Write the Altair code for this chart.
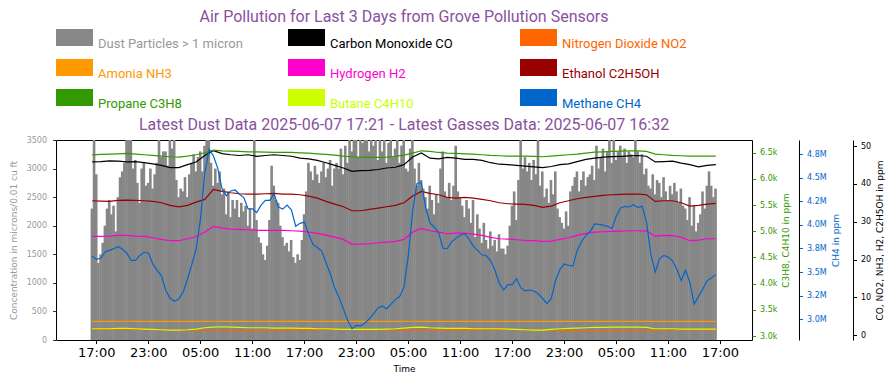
import altair as alt
import pandas as pd

TITLE = "Air Pollution for Last 3 Days from Grove Pollution Sensors"
SUBTITLE = "Latest Dust Data 2025-06-07 17:21 - Latest Gasses Data: 2025-06-07 16:32"
PURPLE = "#8a519e"

# ---------------- legend entries ----------------
legend_names = ["Dust Particles > 1 micron", "Carbon Monoxide CO", "Nitrogen Dioxide NO2",
                "Amonia NH3", "Hydrogen H2", "Ethanol C2H5OH",
                "Propane C3H8", "Butane C4H10", "Methane CH4"]
legend_colors = ["#888888", "#000000", "#ff6600",
                 "#ff9900", "#ff00cc", "#990000",
                 "#339900", "#ccff00", "#0066cc"]
legend_text_colors = ["#999999", "#000000", "#ff6600",
                      "#ff9900", "#ff00cc", "#990000",
                      "#339900", "#ccff00", "#0066cc"]

# ---------------- dust (every 15 min from 2025-06-04 16:30) ----------------
dust_start = "2025-06-04 16:30"
dust_step = "15min"
dust = [
    2300, 3500,
    2900, 1350, 1500, 1700,
    2000, 2300, 2450, 2200,
    2350, 1900, 2500, 2850,
    2950, 3100, 3500, 3500,
    3500, 3000, 3150, 2750,
    2400, 3000, 3100, 2700,
    2750, 3000, 2650, 2900,
    3100, 3500, 3200, 3300,
    3300, 3050, 3500, 3350,
    3500, 2800, 2500, 2650,
    2600, 2850, 2500, 2900,
    3100, 3250, 2950, 3200,
    3300, 2950, 3400, 3500,
    3500, 3100, 2700, 3000,
    2750, 2950, 2550, 2650,
    2200, 2600, 2150, 2450,
    2300, 2450, 2150, 2400,
    2250, 2350, 2000, 2300,
    1950, 3500, 2100, 1800,
    1700, 1500, 1400, 1650,
    2100, 3050, 2700, 2450,
    2400, 2000, 1800, 1650,
    1700, 1550, 1750, 1450,
    1350, 1500, 1400, 1750,
    2200, 2600, 3100, 2950,
    2800, 3050, 2900, 2750,
    2950, 3100, 2850, 3000,
    3150, 2700, 3000, 3100,
    3000, 3350, 2900, 3400,
    3100, 3500, 3300, 3500,
    3500, 3200, 3500, 3450,
    3500, 3500, 3300, 3500,
    3400, 3500, 3150, 3500,
    3300, 3500, 3100, 3450,
    3500, 3200, 3350, 3500,
    3100, 3400, 3500, 3000,
    2950, 3350, 3500, 3000,
    2700, 3100, 2800, 2650,
    2500, 2300, 2700, 2450,
    2200, 2550, 2400, 3000,
    3300, 2600, 2500, 2750,
    2450, 2700, 3400, 2600,
    2500, 2350, 2150, 2450,
    2300, 2050, 2450, 1800,
    2200, 1950, 1700, 2050,
    1750, 1600, 1900, 1650,
    1750, 1550, 1850, 1600,
    1600, 1500, 1650, 2000,
    2350, 2600, 2100, 2800,
    3500, 3000, 3200, 2950,
    3100, 2800, 3150, 2900,
    3500, 2700, 2950, 2500,
    2650, 2400, 2800, 2550,
    2950, 2300, 2150, 2050,
    1950, 2250, 2000, 2600,
    2700, 2850, 2950, 2600,
    2800, 2950, 2700, 2850,
    2900, 3050, 2800, 3400,
    3000, 3200, 3350, 2950,
    3300, 3500, 3100, 3500,
    3150, 3300, 3400, 3200,
    3350, 3100, 3300, 3250,
    3200, 3500, 3300, 3100,
    3250, 2900, 3000, 2700,
    2650, 2900, 2550, 2800,
    2750, 2500, 2850, 2600,
    2450, 2700, 2550, 2750,
    2600, 2400, 2650, 2350,
    2300, 2100, 2500, 2000,
    2350, 1900, 2050, 2200,
    2600, 2300, 2700, 2950,
    2700, 2500, 2650,
]

# ---------------- gases (hourly from 2025-06-04 16:32) ----------------
gas_start = "2025-06-04 16:32"
gas_step = "60min"
co = [45.8, 45.9, 46.1, 46.0, 45.8, 45.9, 45.6, 45.3, 44.9, 44.3,
      44.3, 45.1, 45.8, 47.5, 48.8, 48.0, 47.7, 47.5, 47.7, 47.3,
      47.5, 47.7, 47.5, 47.3, 46.8, 46.6, 46.2, 45.6, 44.9, 44.2,
      43.3, 43.5, 43.6, 43.8, 44.2, 44.4, 45.1, 47.1, 48.2, 46.8,
      46.6, 47.0, 46.8, 46.5, 46.5, 46.2, 45.6, 45.2, 45.1, 44.9,
      44.7, 44.5, 44.3, 44.6, 45.1, 45.3, 45.9, 46.5, 46.8, 47.1,
      47.2, 47.3, 47.4, 47.5, 47.3, 45.8, 45.9, 46.0, 45.5, 45.1,
      44.5, 44.9, 45.1]
no2 = [1.65, 1.65, 1.64, 1.63, 1.62, 1.60, 1.58, 1.52, 1.48, 1.45,
       1.42, 1.40, 1.38, 1.36, 1.34, 1.32, 1.31, 1.30, 1.30, 1.31,
       1.33, 1.35, 1.38, 1.40, 1.42, 1.44, 1.46, 1.47, 1.48, 1.48,
       1.47, 1.46, 1.45, 1.44, 1.42, 1.40, 1.38, 1.36, 1.35, 1.36,
       1.38, 1.40, 1.42, 1.44, 1.45, 1.46, 1.47, 1.48, 1.48, 1.47,
       1.45, 1.42, 1.38, 1.35, 1.32, 1.28, 1.26, 1.25, 1.25, 1.26,
       1.27, 1.28, 1.30, 1.32, 1.35, 1.38, 1.40, 1.42, 1.43, 1.44,
       1.44, 1.45, 1.45]
nh3 = [3.70, 3.70, 3.70, 3.70, 3.71, 3.70, 3.70, 3.70, 3.69, 3.70,
       3.70, 3.70, 3.70, 3.70, 3.71, 3.70, 3.70, 3.70, 3.70, 3.70,
       3.70, 3.70, 3.69, 3.70, 3.70, 3.70, 3.70, 3.70, 3.70, 3.70,
       3.70, 3.70, 3.70, 3.70, 3.70, 3.70, 3.70, 3.71, 3.70, 3.70,
       3.70, 3.70, 3.70, 3.70, 3.70, 3.70, 3.70, 3.70, 3.70, 3.70,
       3.70, 3.70, 3.69, 3.70, 3.70, 3.70, 3.70, 3.70, 3.70, 3.70,
       3.70, 3.70, 3.70, 3.70, 3.70, 3.70, 3.70, 3.70, 3.70, 3.70,
       3.70, 3.70, 3.70]
h2 = [26.13, 26.13, 26.22, 26.39, 26.39, 26.22, 26.13, 25.78, 25.34, 24.99,
      24.99, 25.51, 26.04, 27.27, 28.77, 28.33, 28.07, 27.98, 27.89, 27.72,
      27.72, 27.72, 27.72, 27.63, 27.54, 27.27, 26.92, 26.48, 25.95, 25.34,
      24.02, 24.11, 24.19, 24.46, 24.63, 24.81, 25.34, 27.27, 28.24, 27.63,
      27.27, 26.83, 27.01, 27.01, 26.75, 26.39, 25.87, 25.51, 25.43, 25.25,
      25.07, 24.99, 24.81, 24.90, 25.34, 25.78, 26.39, 26.92, 27.27, 27.36,
      27.45, 27.54, 27.63, 27.63, 27.54, 26.22, 26.39, 26.31, 25.95, 24.99,
      25.16, 25.51, 25.51]
c2h5oh = [35.55, 35.46, 35.37, 35.64, 35.72, 35.64, 35.55, 35.37, 35.02, 34.32,
          33.96, 34.32, 35.20, 35.90, 38.54, 38.01, 37.66, 37.40, 37.31, 37.31,
          37.40, 37.48, 37.31, 37.31, 37.13, 36.78, 36.25, 35.37, 34.67, 33.96,
          32.91, 32.91, 33.26, 33.61, 33.96, 34.32, 35.02, 36.78, 38.01, 37.48,
          37.13, 36.43, 36.25, 36.43, 36.25, 35.90, 35.55, 35.02, 34.76, 34.67,
          34.58, 34.32, 33.79, 34.14, 35.02, 35.55, 36.08, 36.43, 36.69, 36.96,
          37.13, 37.22, 37.31, 37.31, 37.13, 35.37, 35.55, 35.55, 35.02, 34.14,
          34.32, 34.67, 34.84]
c3h8 = [6460, 6466, 6473, 6479, 6485, 6473, 6460, 6447, 6434, 6422,
        6415, 6434, 6460, 6498, 6549, 6536, 6530, 6524, 6517, 6517,
        6511, 6504, 6504, 6504, 6498, 6492, 6479, 6466, 6453, 6434,
        6422, 6415, 6409, 6409, 6415, 6428, 6453, 6492, 6536, 6524,
        6504, 6492, 6485, 6479, 6473, 6460, 6447, 6441, 6434, 6434,
        6434, 6428, 6422, 6434, 6447, 6460, 6473, 6492, 6511, 6517,
        6524, 6530, 6536, 6536, 6524, 6473, 6460, 6447, 6441, 6434,
        6434, 6434, 6434]
c4h10 = [3140, 3140, 3140, 3146, 3146, 3140, 3134, 3127, 3121, 3114,
         3114, 3121, 3134, 3159, 3172, 3178, 3172, 3165, 3159, 3159,
         3159, 3153, 3153, 3153, 3146, 3146, 3140, 3140, 3134, 3127,
         3127, 3127, 3127, 3127, 3134, 3140, 3153, 3165, 3172, 3159,
         3153, 3146, 3146, 3146, 3140, 3140, 3140, 3140, 3134, 3127,
         3121, 3114, 3114, 3127, 3140, 3146, 3153, 3159, 3165, 3165,
         3172, 3172, 3172, 3172, 3165, 3140, 3140, 3140, 3134, 3134,
         3134, 3134, 3134]

# methane, every 30 min from 2025-06-04 16:32 (million ppm)
ch4_step = "30min"
ch4_m = [3.668, 3.634, 3.647, 3.716, 3.730, 3.748, 3.772, 3.742, 3.700, 3.623,
         3.624, 3.676, 3.710, 3.703, 3.587, 3.517, 3.460, 3.305, 3.222, 3.190,
         3.214, 3.288, 3.424, 3.579, 3.745, 4.060, 4.550, 4.800, 4.730, 4.600,
         4.380, 4.310, 4.360, 4.370, 4.325, 4.290, 4.170, 4.170, 4.130, 4.210,
         4.260, 4.260, 4.330, 4.190, 4.167, 4.210, 4.160, 3.986, 4.017, 4.030,
         3.900, 3.790, 3.760, 3.722, 3.600, 3.480, 3.330, 3.230, 3.110, 2.990,
         2.900, 2.935, 2.930, 2.960, 3.005, 3.060, 3.120, 3.140, 3.110, 3.160,
         3.208, 3.240, 3.340, 3.680, 4.150, 4.440, 4.450, 4.180, 4.020, 3.975,
         3.920, 3.750, 3.750, 3.820, 3.860, 3.890, 3.910, 3.850, 3.775, 3.730,
         3.683, 3.673, 3.620, 3.520, 3.380, 3.310, 3.367, 3.367, 3.430, 3.332,
         3.300, 3.310, 3.300, 3.270, 3.220, 3.165, 3.220, 3.410, 3.530, 3.585,
         3.572, 3.563, 3.730, 3.823, 3.890, 3.930, 4.010, 4.005, 3.997, 3.985,
         3.960, 4.090, 4.180, 4.196, 4.190, 4.214, 4.183, 4.197, 4.030, 3.690,
         3.500, 3.640, 3.677, 3.660, 3.620, 3.530, 3.410, 3.520, 3.390, 3.160,
         3.240, 3.320, 3.410, 3.438, 3.473]

# ---------------- axes: ticks, labels, domains ----------------
x_domain = ["2025-06-04 12:56", "2025-06-07 20:08"]
x_ticks = ["2025-06-04 17:00", "2025-06-04 23:00", "2025-06-05 05:00", "2025-06-05 11:00",
           "2025-06-05 17:00", "2025-06-05 23:00", "2025-06-06 05:00", "2025-06-06 11:00",
           "2025-06-06 17:00", "2025-06-06 23:00", "2025-06-07 05:00", "2025-06-07 11:00",
           "2025-06-07 17:00"]
left_ticks = [0, 500, 1000, 1500, 2000, 2500, 3000, 3500]
left_domain = [0, 3500]
black_ticks = [0, 10, 20, 30, 40, 50]
black_domain = [-1.24, 51.6]
green_ticks = [3000, 3500, 4000, 4500, 5000, 5500, 6000, 6500]
green_labels = ["3.0k", "3.5k", "4.0k", "4.5k", "5.0k", "5.5k", "6.0k", "6.5k"]
green_domain = [2925, 6742]
blue_ticks = [3000000, 3250000, 3500000, 3750000, 4000000, 4250000, 4500000, 4750000]
blue_labels = ["3.0M", "3.2M", "3.5M", "3.8M", "4.0M", "4.2M", "4.5M", "4.8M"]
blue_domain = [2780000, 4900000]

black_group = ["Carbon Monoxide CO", "Nitrogen Dioxide NO2", "Amonia NH3",
               "Hydrogen H2", "Ethanol C2H5OH"]
green_group = ["Propane C3H8", "Butane C4H10"]
blue_group = ["Methane CH4"]

# ---------------- build tables ----------------
def dt(s):
    t = pd.Timestamp(s)
    return alt.DateTime(year=t.year, month=t.month, date=t.day, hours=t.hour, minutes=t.minute)


def label_expr(ticks, labels):
    expr = "''"
    for v, l in reversed(list(zip(ticks, labels))):
        expr = f"datum.value == {v} ? '{l}' : ({expr})"
    return expr


dust_df = pd.DataFrame({
    "time": pd.date_range(dust_start, periods=len(dust), freq=dust_step),
    "dust": dust,
})

gas_series = {
    "Carbon Monoxide CO": (co, gas_step), "Nitrogen Dioxide NO2": (no2, gas_step),
    "Amonia NH3": (nh3, gas_step), "Hydrogen H2": (h2, gas_step),
    "Ethanol C2H5OH": (c2h5oh, gas_step), "Propane C3H8": (c3h8, gas_step),
    "Butane C4H10": (c4h10, gas_step),
    "Methane CH4": ([v * 1e6 for v in ch4_m], ch4_step),
}
frames = []
for name, (vals, step) in gas_series.items():
    frames.append(pd.DataFrame({
        "time": pd.date_range(gas_start, periods=len(vals), freq=step),
        "value": vals,
        "series": name,
    }))
gas_long = pd.concat(frames, ignore_index=True)

legend_df = pd.DataFrame({
    "name": legend_names,
    "color": legend_colors,
    "tcolor": legend_text_colors,
    "row": [i // 3 for i in range(len(legend_names))],
    "col": [i % 3 for i in range(len(legend_names))],
})

PLOT_W = 696
PLOT_H = 200

x_scale = alt.Scale(domain=[dt(x_domain[0]), dt(x_domain[1])])
x_axis = alt.Axis(values=[dt(s) for s in x_ticks], format="%H:%M", title="Time",
                  labelFontSize=13, labelColor="black", titleFontSize=9,
                  tickSize=3.5, tickColor="black", domain=False, labelPadding=3,
                  titlePadding=5, labelFlush=False)
x_enc = alt.X("time:T", scale=x_scale, axis=x_axis)

color_scale = alt.Scale(domain=legend_names[1:], range=legend_colors[1:])

bars = alt.Chart(dust_df).mark_bar(color="#868686", size=2.6, orient="vertical", clip=True).encode(
    x=x_enc,
    y=alt.Y("dust:Q", scale=alt.Scale(domain=left_domain, nice=False, zero=False),
            axis=alt.Axis(orient="left", values=left_ticks, format="d",
                          title="Concentration in microns/0.01 cu ft",
                          labelColor="#999999", titleColor="#999999", labelFontSize=8,
                          titleFontSize=9, tickSize=3.5, tickColor="#333333",
                          domain=False, labelPadding=6, titlePadding=8)),
)


def gas_layer(names, domain, axis):
    return alt.Chart(gas_long).transform_filter(
        alt.FieldOneOfPredicate(field="series", oneOf=names)
    ).mark_line(strokeWidth=1.2, clip=True).encode(
        x=x_enc,
        y=alt.Y("value:Q", scale=alt.Scale(domain=domain, nice=False, zero=False), axis=axis),
        color=alt.Color("series:N", scale=color_scale, legend=None),
    )


black_axis = alt.Axis(orient="right", offset=101, values=black_ticks, format="d",
                      title="CO, NO2, NH3, H2, C2H5OH in ppm", titleAngle=270,
                      titleBaseline="top", labelColor="black", titleColor="black",
                      labelFontSize=8, titleFontSize=9, tickSize=3.5, tickColor="black",
                      domain=True, domainColor="black", labelPadding=4, titlePadding=5)
green_axis = alt.Axis(orient="right", offset=0, values=green_ticks,
                      labelExpr=label_expr(green_ticks, green_labels),
                      title="C3H8, C4H10 in ppm", titleAngle=270, titleBaseline="top",
                      labelColor="#339900", titleColor="#339900", labelFontSize=8,
                      titleFontSize=9, tickSize=3.5, tickColor="#339900",
                      domain=False, labelPadding=4, titlePadding=5)
blue_axis = alt.Axis(orient="right", offset=47, values=blue_ticks,
                     labelExpr=label_expr(blue_ticks, blue_labels),
                     title="CH4 in ppm", titleAngle=270, titleBaseline="top",
                     labelColor="#0066cc", titleColor="#0066cc", labelFontSize=8,
                     titleFontSize=9, tickSize=3.5, tickColor="#0066cc",
                     domain=True, domainColor="black", labelPadding=4, titlePadding=5)

main = alt.layer(
    bars,
    gas_layer(black_group, black_domain, black_axis),
    gas_layer(green_group, green_domain, green_axis),
    gas_layer(blue_group, blue_domain, blue_axis),
).resolve_scale(y="independent").properties(
    width=PLOT_W, height=PLOT_H,
    title=alt.TitleParams(SUBTITLE, baseline="alphabetic", offset=-10),
)

# ---------------- legend block ----------------
lx = alt.X("col:Q", scale=alt.Scale(domain=[0, 3], nice=False, zero=False), axis=None)
ly = alt.Y("row:Q", scale=alt.Scale(domain=[0, 2], nice=False, zero=False, reverse=True), axis=None)

swatches = alt.Chart(legend_df).mark_rect(x2Offset=37, y2Offset=17).encode(
    x=lx, x2="col:Q", y=ly, y2="row:Q",
    color=alt.Color("color:N", scale=None),
)
labels = alt.Chart(legend_df).mark_text(align="left", baseline="alphabetic", dx=42, dy=19,
                                        fontSize=13, font="Roboto").encode(
    x=lx, y=ly, text="name:N",
    color=alt.Color("tcolor:N", scale=None),
)
legend_chart = alt.layer(swatches, labels).properties(
    width=PLOT_W, height=60,
    title=alt.TitleParams(TITLE, baseline="alphabetic", offset=-9),
    view=alt.ViewBackground(stroke="transparent"),
)

chart = alt.vconcat(legend_chart, main, spacing=4).properties(
    padding={"left": 0, "top": 0, "right": 0, "bottom": 0},
).configure_view(stroke="black", strokeWidth=1).configure_axis(
    grid=False, labelFont="DejaVu Sans", titleFont="DejaVu Sans", titleFontWeight="normal",
).configure_title(
    font="Roboto", fontSize=16, color=PURPLE, fontWeight="normal", anchor="middle",
)

chart.save("out.html", embed_options={"renderer": "svg", "actions": False})
